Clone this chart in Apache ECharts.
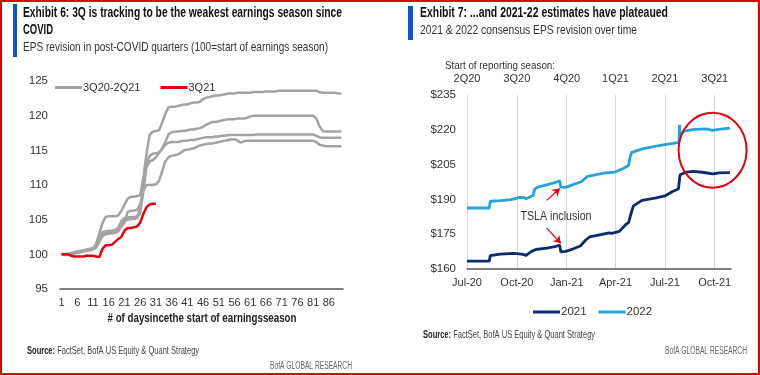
<!DOCTYPE html>
<html>
<head>
<meta charset="UTF-8">
<title>EPS revision</title>
<script type="text/javascript" src="https://cdn.jsdelivr.net/npm/echarts@6/dist/echarts.min.js"></script>
<style>
  body { margin: 0; background: #fff; }
  #chart { width: 760px; height: 375px; }
</style>
</head>
<body>
<div id="chart"></div>
<script>
// ---- left chart: EPS revision by day of earnings season (100 = start) ----
var days = [1, 2, 3, 4, 5, 6, 7, 8, 9, 10, 11, 12, 13, 14, 15, 16, 17, 18, 19, 20,
    21, 22, 23, 24, 25, 26, 27, 28, 29, 30, 31, 32, 33, 34, 35, 36, 37, 38, 39, 40,
    41, 42, 43, 44, 45, 46, 47, 48, 49, 50, 51, 52, 53, 54, 55, 56, 57, 58, 59, 60,
    61, 62, 63, 64, 65, 66, 67, 68, 69, 70, 71, 72, 73, 74, 75, 76, 77, 78, 79, 80,
    81, 82, 83, 84, 85, 86, 87, 88, 89, 90];

var season3Q20 = [100, 100, 100.1, 100.2, 100.3, 100.4, 100.5, 100.6, 100.7, 100.8, 100.9,
    101.5, 103, 104.5, 105.4, 105.5, 105.5, 105.5, 105.6, 106.2,
    107.2, 108, 108.3, 108.3, 108.4, 108.5, 111, 114.5, 117.2, 117.7,
    117.8, 117.9, 119, 120.3, 121.2, 121.3, 121.3, 121.4, 121.5, 121.6,
    121.6, 121.8, 121.9, 121.9, 122, 122.4, 122.6, 122.7, 122.8, 122.9,
    122.9, 123, 123.1, 123.2, 123.2, 123.2, 123.3, 123.3, 123.3, 123.3,
    123.3, 123.4, 123.4, 123.4, 123.4, 123.5, 123.5, 123.5, 123.5, 123.6,
    123.6, 123.6, 123.6, 123.6, 123.6, 123.6, 123.6, 123.6, 123.6, 123.6,
    123.6, 123.6, 123.4, 123.3, 123.3, 123.3, 123.3, 123.3, 123.2, 123.2];

var season4Q20 = [100, 100, 100, 100.1, 100.2, 100.3, 100.4, 100.5, 100.6, 100.7, 100.8,
    101, 102.3, 103.2, 103.3, 103.4, 103.4, 103.5, 103.8, 104.8,
    105.2, 105.3, 105.4, 105.4, 105.5, 106.5, 109.5, 113, 114.2, 114.5,
    114.6, 114.7, 115.3, 116.2, 117.3, 117.6, 117.7, 117.7, 117.8, 117.8,
    117.9, 118, 118, 118.1, 118.2, 118.4, 118.7, 118.9, 119.1, 119.1,
    119.2, 119.3, 119.4, 119.5, 119.5, 119.5, 119.6, 119.6, 119.6, 119.7,
    119.9, 120, 120, 120, 120, 120, 120, 120, 120, 120,
    120, 120, 120, 120, 120, 120, 120, 120, 120, 120,
    120, 119.6, 118.5, 117.8, 117.7, 117.7, 117.7, 117.7, 117.7, 117.7];

var season1Q21 = [100, 100, 100, 100.1, 100.2, 100.3, 100.4, 100.5, 100.6, 100.7, 100.8,
    101, 102, 102.9, 103, 103.1, 103.2, 103.3, 103.6, 104.5,
    104.9, 105, 105.1, 105.1, 105.2, 106, 109, 112.5, 113.4, 113.6,
    114, 114.6, 115.2, 115.8, 116.1, 116.2, 116.2, 116.2, 116.3, 116.4,
    116.4, 116.5, 116.5, 116.6, 116.7, 116.8, 116.9, 116.9, 116.9, 117,
    117, 117.1, 117.1, 117.2, 117.2, 117.2, 117.2, 117.2, 117.2, 117.2,
    117.2, 117.2, 117.3, 117.3, 117.3, 117.3, 117.3, 117.3, 117.3, 117.3,
    117.3, 117.3, 117.3, 117.3, 117.3, 117.3, 117.3, 117.3, 117.3, 117.3,
    117.3, 117.1, 116.9, 116.8, 116.8, 116.8, 116.8, 116.8, 116.8, 116.8];

var season2Q21 = [100, 99.9, 99.9, 100, 100.1, 100.2, 100.3, 100.4, 100.5, 100.6, 100.7,
    101, 101.8, 102.6, 102.9, 103, 103, 103.1, 103.3, 104,
    104.6, 106.1, 106.3, 106.3, 106.4, 107.2, 109.2, 110, 110, 110,
    110.1, 110.6, 112, 113.4, 114, 114.2, 114.3, 114.4, 114.7, 115,
    115.1, 115.2, 115.3, 115.5, 115.7, 115.8, 115.9, 116, 116, 116.1,
    116.2, 116.3, 116.4, 116.5, 116.6, 116.6, 116.4, 116.1, 116.3, 116.4,
    116.4, 116.4, 116.4, 116.4, 116.4, 116.4, 116.4, 116.4, 116.4, 116.4,
    116.4, 116.4, 116.4, 116.4, 116.4, 116.4, 116.4, 116.4, 116.4, 116.4,
    116.4, 116.2, 115.8, 115.7, 115.6, 115.6, 115.6, 115.6, 115.6, 115.6];

var season3Q21 = [100, 100, 100, 99.8, 99.7, 99.7, 99.7, 99.7, 99.8, 99.8, 99.8,
    99.7, 99.6, 100.8, 101.3, 101.3, 101.4, 101.8, 102.2, 102.5,
    103.4, 103.8, 103.8, 103.9, 104, 104.6, 105.8, 106.8, 107.2, 107.3, 107.3];

// ---- right chart: consensus EPS over time ----
var eps2021 = [
    ['2020-07-01', 163.4], ['2020-08-11', 163.4], ['2020-08-13', 165.8], ['2020-08-31', 166.4],
    ['2020-09-25', 166.7], ['2020-10-10', 166.4], ['2020-10-18', 165.9], ['2020-10-28', 167.6],
    ['2020-11-05', 168.4], ['2020-11-25', 169.0], ['2020-12-10', 169.6], ['2020-12-19', 170.3],
    ['2020-12-21', 167.4], ['2020-12-30', 167.6], ['2021-01-12', 168.6], ['2021-01-26', 169.9],
    ['2021-02-05', 172.5], ['2021-02-12', 173.8], ['2021-03-05', 174.8], ['2021-03-20', 175.6],
    ['2021-03-25', 175.4], ['2021-04-08', 176.2], ['2021-04-20', 179.2], ['2021-04-25', 180.0],
    ['2021-04-28', 180.3], ['2021-05-01', 185.0], ['2021-05-04', 187.2], ['2021-05-20', 189.6],
    ['2021-06-15', 190.7], ['2021-07-01', 191.5], ['2021-07-15', 193.4], ['2021-07-26', 194.5],
    ['2021-07-29', 200.6], ['2021-08-10', 201.8], ['2021-08-22', 202.1], ['2021-09-08', 201.7],
    ['2021-09-27', 201.0], ['2021-10-10', 201.4], ['2021-10-29', 201.5]
];

var eps2022 = [
    ['2020-07-01', 186.3], ['2020-08-11', 186.3], ['2020-08-13', 189.2], ['2020-08-31', 189.5],
    ['2020-09-20', 189.9], ['2020-10-07', 190.9], ['2020-10-14', 190.8], ['2020-10-18', 190.3],
    ['2020-10-31', 191.7], ['2020-11-03', 194.5], ['2020-11-10', 195.4], ['2020-11-25', 196.3],
    ['2020-12-15', 197.6], ['2020-12-19', 198.0], ['2020-12-21', 195.3], ['2020-12-30', 195.2],
    ['2021-01-15', 196.6], ['2021-01-28', 197.6], ['2021-02-08', 199.9], ['2021-02-20', 200.5],
    ['2021-03-10', 201.3], ['2021-03-31', 201.8], ['2021-04-15', 203.3], ['2021-04-25', 204.6],
    ['2021-04-28', 208.5], ['2021-05-01', 210.3], ['2021-05-20', 211.8], ['2021-06-15', 213.0],
    ['2021-07-01', 213.6], ['2021-07-16', 214.1], ['2021-07-27', 214.6], ['2021-07-28', 222.2],
    ['2021-07-29', 217.5], ['2021-08-05', 219.4], ['2021-08-25', 220.2], ['2021-09-15', 220.4],
    ['2021-09-27', 219.8], ['2021-10-08', 220.2], ['2021-10-29', 220.7]
];

var quarterStarts = ['2020-07-01', '2020-10-01', '2021-01-01', '2021-04-01', '2021-07-01', '2021-10-01'];
var seasonLabels = ['2Q20', '3Q20', '4Q20', '1Q21', '2Q21', '3Q21'];
var monthNames = ['Jan', 'Feb', 'Mar', 'Apr', 'May', 'Jun', 'Jul', 'Aug', 'Sep', 'Oct', 'Nov', 'Dec'];

// TSLA arrows, [from, to] in data coords
var tslaArrows = [
    [['2020-11-25', 189.6], ['2020-12-19', 194.7]],
    [['2020-11-25', 177.6], ['2020-12-21', 171.1]]
];

var FONT = '"Liberation Sans", Arial, sans-serif';
var GRAY = '#a3a3a3', RED = '#e3000f', NAVY = '#0c2a6e', SKY = '#27a2dc';

function toTime(s) {
    var p = s.split('-');
    return Date.UTC(+p[0], +p[1] - 1, +p[2]);
}

function toPoints(list) {
    return list.map(function (d) { return [toTime(d[0]), d[1]]; });
}

function grayLine(data) {
    return {
        name: '3Q20-2Q21', type: 'line', xAxisIndex: 0, yAxisIndex: 0,
        data: data, symbol: 'none', smooth: false,
        lineStyle: { color: GRAY, width: 2.5 }, itemStyle: { color: GRAY }, z: 2
    };
}

// the source uses a condensed face, so squeeze text to the width it takes there
var measureCtx = document.createElement('canvas').getContext('2d');
function fitText(x, y, text, font, color, width, align) {
    measureCtx.font = font;
    var w = measureCtx.measureText(text).width;
    return {
        type: 'text', x: x, y: y, scaleX: width / w, z: 20,
        style: { text: text, font: font, fill: color || '#222', verticalAlign: 'middle', align: align || 'left' }
    };
}

function sourceText(x, y) {
    var el = fitText(x, y, 'Source: FactSet, BofA US Equity & Quant Strategy', '10.5px ' + FONT, '#444', 170);
    el.style.text = '{b|Source:} FactSet, BofA US Equity & Quant Strategy';
    el.style.rich = { b: { fontWeight: 'bold', fontSize: 10.5, fontFamily: FONT, fill: '#222' } };
    return el;
}

var chart = echarts.init(document.getElementById('chart'));
var quarterTimes = quarterStarts.map(toTime);
var xMin = toTime('2020-07-01'), xMax = toTime('2021-10-31');

var option = {
    animation: false,
    textStyle: { fontFamily: FONT },
    grid: [
        { left: 60, right: 417, top: 81, bottom: 86 },
        { left: 467, right: 29, top: 95, bottom: 106 }
    ],
    legend: [
        {
            data: ['3Q20-2Q21', '3Q21'], left: 50, top: 77, icon: 'rect',
            itemWidth: 27, itemHeight: 3, itemGap: 20,
            textStyle: { fontFamily: FONT, fontSize: 11, color: '#333', padding: [0, 0, 0, -4] }
        },
        {
            data: ['2021', '2022'], left: 528, top: 301, icon: 'rect',
            itemWidth: 27, itemHeight: 3, itemGap: 12,
            textStyle: { fontFamily: FONT, fontSize: 11.5, color: '#333', padding: [0, 0, 0, -4] }
        }
    ],
    xAxis: [
        {
            type: 'category', gridIndex: 0, data: days, boundaryGap: true,
            axisLine: { lineStyle: { color: '#555', width: 1.5 } },
            axisTick: { show: false },
            axisLabel: { interval: 4, margin: 8, fontSize: 11, color: '#333', fontFamily: FONT }
        },
        {
            type: 'value', gridIndex: 1, min: xMin, max: xMax,
            axisLine: { lineStyle: { color: '#555', width: 1.5 } },
            axisTick: { show: false, customValues: quarterTimes },
            axisLabel: {
                customValues: quarterTimes, margin: 8, fontSize: 11, color: '#333', fontFamily: FONT,
                formatter: function (val) {
                    var d = new Date(val);
                    return monthNames[d.getUTCMonth()] + '-' + String(d.getUTCFullYear()).slice(2);
                }
            },
            splitLine: { show: true, lineStyle: { color: '#d6d6d6', width: 1 } }
        },
        {
            type: 'value', gridIndex: 1, position: 'top', min: xMin, max: xMax,
            axisLine: { show: false }, axisTick: { show: false, customValues: quarterTimes },
            splitLine: { show: false },
            axisLabel: {
                customValues: quarterTimes, margin: 11, fontSize: 11, color: '#333', fontFamily: FONT,
                formatter: function (val) {
                    var i = quarterTimes.indexOf(val);
                    return i >= 0 ? seasonLabels[i] : '';
                }
            }
        }
    ],
    yAxis: [
        {
            type: 'value', gridIndex: 0, min: 95, max: 125, interval: 5,
            axisLine: { show: false }, axisTick: { show: false }, splitLine: { show: false },
            axisLabel: { margin: 12, fontSize: 11.5, color: '#333', fontFamily: FONT }
        },
        {
            type: 'value', gridIndex: 1, min: 160, max: 235, interval: 15,
            axisLine: { show: false }, axisTick: { show: false }, splitLine: { show: false },
            axisLabel: { margin: 11, fontSize: 11.5, color: '#333', fontFamily: FONT, formatter: '${value}' }
        }
    ],
    series: [
        grayLine(season3Q20),
        grayLine(season4Q20),
        grayLine(season1Q21),
        grayLine(season2Q21),
        {
            name: '3Q21', type: 'line', xAxisIndex: 0, yAxisIndex: 0, data: season3Q21,
            symbol: 'none', lineStyle: { color: RED, width: 2.5 }, itemStyle: { color: RED }, z: 3
        },
        {
            name: '2021', type: 'line', xAxisIndex: 1, yAxisIndex: 1, data: toPoints(eps2021),
            symbol: 'none', lineStyle: { color: NAVY, width: 2.8 }, itemStyle: { color: NAVY },
            markLine: {
                silent: true, symbol: ['none', 'arrow'], symbolSize: 7,
                lineStyle: { color: RED, width: 1.2, type: 'solid' }, label: { show: false },
                data: tslaArrows.map(function (a) {
                    return [{ coord: [toTime(a[0][0]), a[0][1]] }, { coord: [toTime(a[1][0]), a[1][1]] }];
                })
            }
        },
        {
            name: '2022', type: 'line', xAxisIndex: 1, yAxisIndex: 1, data: toPoints(eps2022),
            symbol: 'none', lineStyle: { color: SKY, width: 2.8 }, itemStyle: { color: SKY }
        }
    ]
};
chart.setOption(option);

// red ellipse round the plateau, centred in data coords
var ring = chart.convertToPixel({ xAxisIndex: 1, yAxisIndex: 1 }, [toTime('2021-09-27'), 211.2]);

chart.setOption({
    graphic: [
        { type: 'rect', shape: { x: 1, y: 1, width: 758, height: 373 }, style: { fill: 'none', stroke: '#e00000', lineWidth: 2 } },
        { type: 'rect', shape: { x: 13, y: 4, width: 4, height: 53 }, style: { fill: '#1450c8' } },
        { type: 'rect', shape: { x: 408, y: 6, width: 5, height: 34 }, style: { fill: '#1450c8' } },
        fitText(23, 13, 'Exhibit 6: 3Q is tracking to be the weakest earnings season since', 'bold 14px ' + FONT, '#111', 319),
        fitText(23, 30, 'COVID', 'bold 14px ' + FONT, '#111', 30),
        fitText(23, 47, 'EPS revision in post-COVID quarters (100=start of earnings season)', '13px ' + FONT, '#333', 305),
        fitText(420, 13, 'Exhibit 7: ...and 2021-22 estimates have plateaued', 'bold 14px ' + FONT, '#111', 248),
        fitText(420, 30, '2021 & 2022 consensus EPS revision over time', '13px ' + FONT, '#333', 217),
        fitText(445, 66, 'Start of reporting season:', '11.5px ' + FONT, '#333', 110),
        fitText(556, 217, 'TSLA inclusion', '12.5px ' + FONT, '#333', 71, 'center'),
        fitText(202, 319, '# of daysincethe start of earningsseason', 'bold 12.5px ' + FONT, '#222', 189, 'center'),
        sourceText(27, 351),
        sourceText(423, 335),
        fitText(270, 366, 'BofA GLOBAL RESEARCH', '10px ' + FONT, '#666', 82),
        fitText(665, 351, 'BofA GLOBAL RESEARCH', '10px ' + FONT, '#666', 82),
        {
            type: 'ellipse', shape: { cx: ring[0], cy: ring[1], rx: 34, ry: 37.5 },
            style: { fill: 'none', stroke: RED, lineWidth: 2 }, z: 10
        }
    ]
});
</script>
</body>
</html>
